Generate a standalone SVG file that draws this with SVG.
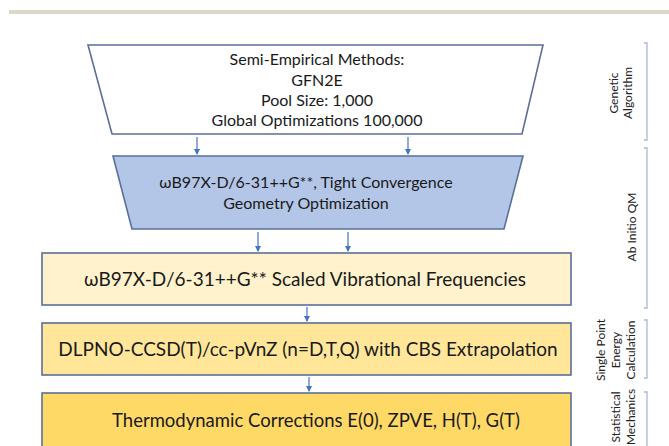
<svg xmlns="http://www.w3.org/2000/svg" width="669" height="446" viewBox="0 0 669 446">
<style>
.t{font-family:Lato,"Open Sans",sans-serif;fill:#1a1a1a;text-anchor:middle}
.s{font-family:Lato,"Open Sans",sans-serif;fill:#222;text-anchor:middle;font-size:12px}
.box{stroke:#5b6f9a;stroke-width:1.6}
.br{fill:none;stroke:#a9b8d6;stroke-width:1.3}
.ar{stroke:#4472c4;stroke-width:1.2;marker-end:url(#ah)}
</style>
<defs>
<marker id="ah" markerWidth="6" markerHeight="6" refX="5" refY="3" orient="auto" markerUnits="userSpaceOnUse">
<path d="M0,0 L6,3 L0,6 z" fill="#4472c4"/>
</marker>
</defs>
<rect x="9" y="10" width="660" height="4" fill="#dcd8c8"/>
<g id="n1">
<polygon class="box" points="88,45 543,45 522,134 112,134" fill="#ffffff"/>
<text class="t" font-size="16" x="317" y="65">Semi-Empirical Methods:</text>
<text class="t" font-size="16" x="317" y="86">GFN2E</text>
<text class="t" font-size="16" x="317" y="106">Pool Size: 1,000</text>
<text class="t" font-size="16" x="317" y="126">Global Optimizations 100,000</text>
</g>
<g id="n2">
<polygon class="box" points="113,156 523,156 504,229 132,229" fill="#b4c6e7"/>
<text class="t" font-size="16" x="306" y="188">ωB97X-D/6-31++G**, Tight Convergence</text>
<text class="t" font-size="16" x="306" y="209">Geometry Optimization</text>
</g>
<g id="n3">
<rect class="box" x="42" y="253" width="529" height="52" fill="#fff2cc"/>
<text class="t" font-size="19" x="305" y="286">ωB97X-D/6-31++G** Scaled Vibrational Frequencies</text>
</g>
<g id="n4">
<rect class="box" x="42" y="323" width="529" height="52" fill="#ffe699"/>
<text class="t" font-size="19" x="308" y="356">DLPNO-CCSD(T)/cc-pVnZ (n=D,T,Q) with CBS Extrapolation</text>
</g>
<g id="n5">
<rect class="box" x="42" y="393" width="529" height="60" fill="#ffd966"/>
<text class="t" font-size="18.5" x="316" y="427">Thermodynamic Corrections E(0), ZPVE, H(T), G(T)</text>
</g>
<g id="connectors">
<line class="ar" x1="197" y1="137" x2="197" y2="154"/>
<line class="ar" x1="408" y1="137" x2="408" y2="154"/>
<line class="ar" x1="258" y1="232" x2="258" y2="251"/>
<line class="ar" x1="348" y1="232" x2="348" y2="251"/>
<line class="ar" x1="307" y1="307" x2="307" y2="321"/>
<line class="ar" x1="309" y1="377" x2="309" y2="391"/>
</g>
<g id="labels">
<path class="br" d="M644,43 H647 V140 H644"/>
<text class="s" transform="translate(618,93) rotate(-90)">Genetic</text>
<text class="s" transform="translate(632,93) rotate(-90)">Algorithm</text>
<path class="br" d="M644,148 H647 V308 H644"/>
<text class="s" transform="translate(636,227) rotate(-90)">Ab Initio QM</text>
<path class="br" d="M644,320 H647 V378 H644"/>
<text class="s" transform="translate(605,350) rotate(-90)">Single Point</text>
<text class="s" transform="translate(620,350) rotate(-90)">Energy</text>
<text class="s" transform="translate(635,350) rotate(-90)">Calculation</text>
<path class="br" d="M644,392 H647 V450"/>
<text class="s" transform="translate(620,417) rotate(-90)">Statistical</text>
<text class="s" transform="translate(635,417) rotate(-90)">Mechanics</text>
</g>
</svg>
